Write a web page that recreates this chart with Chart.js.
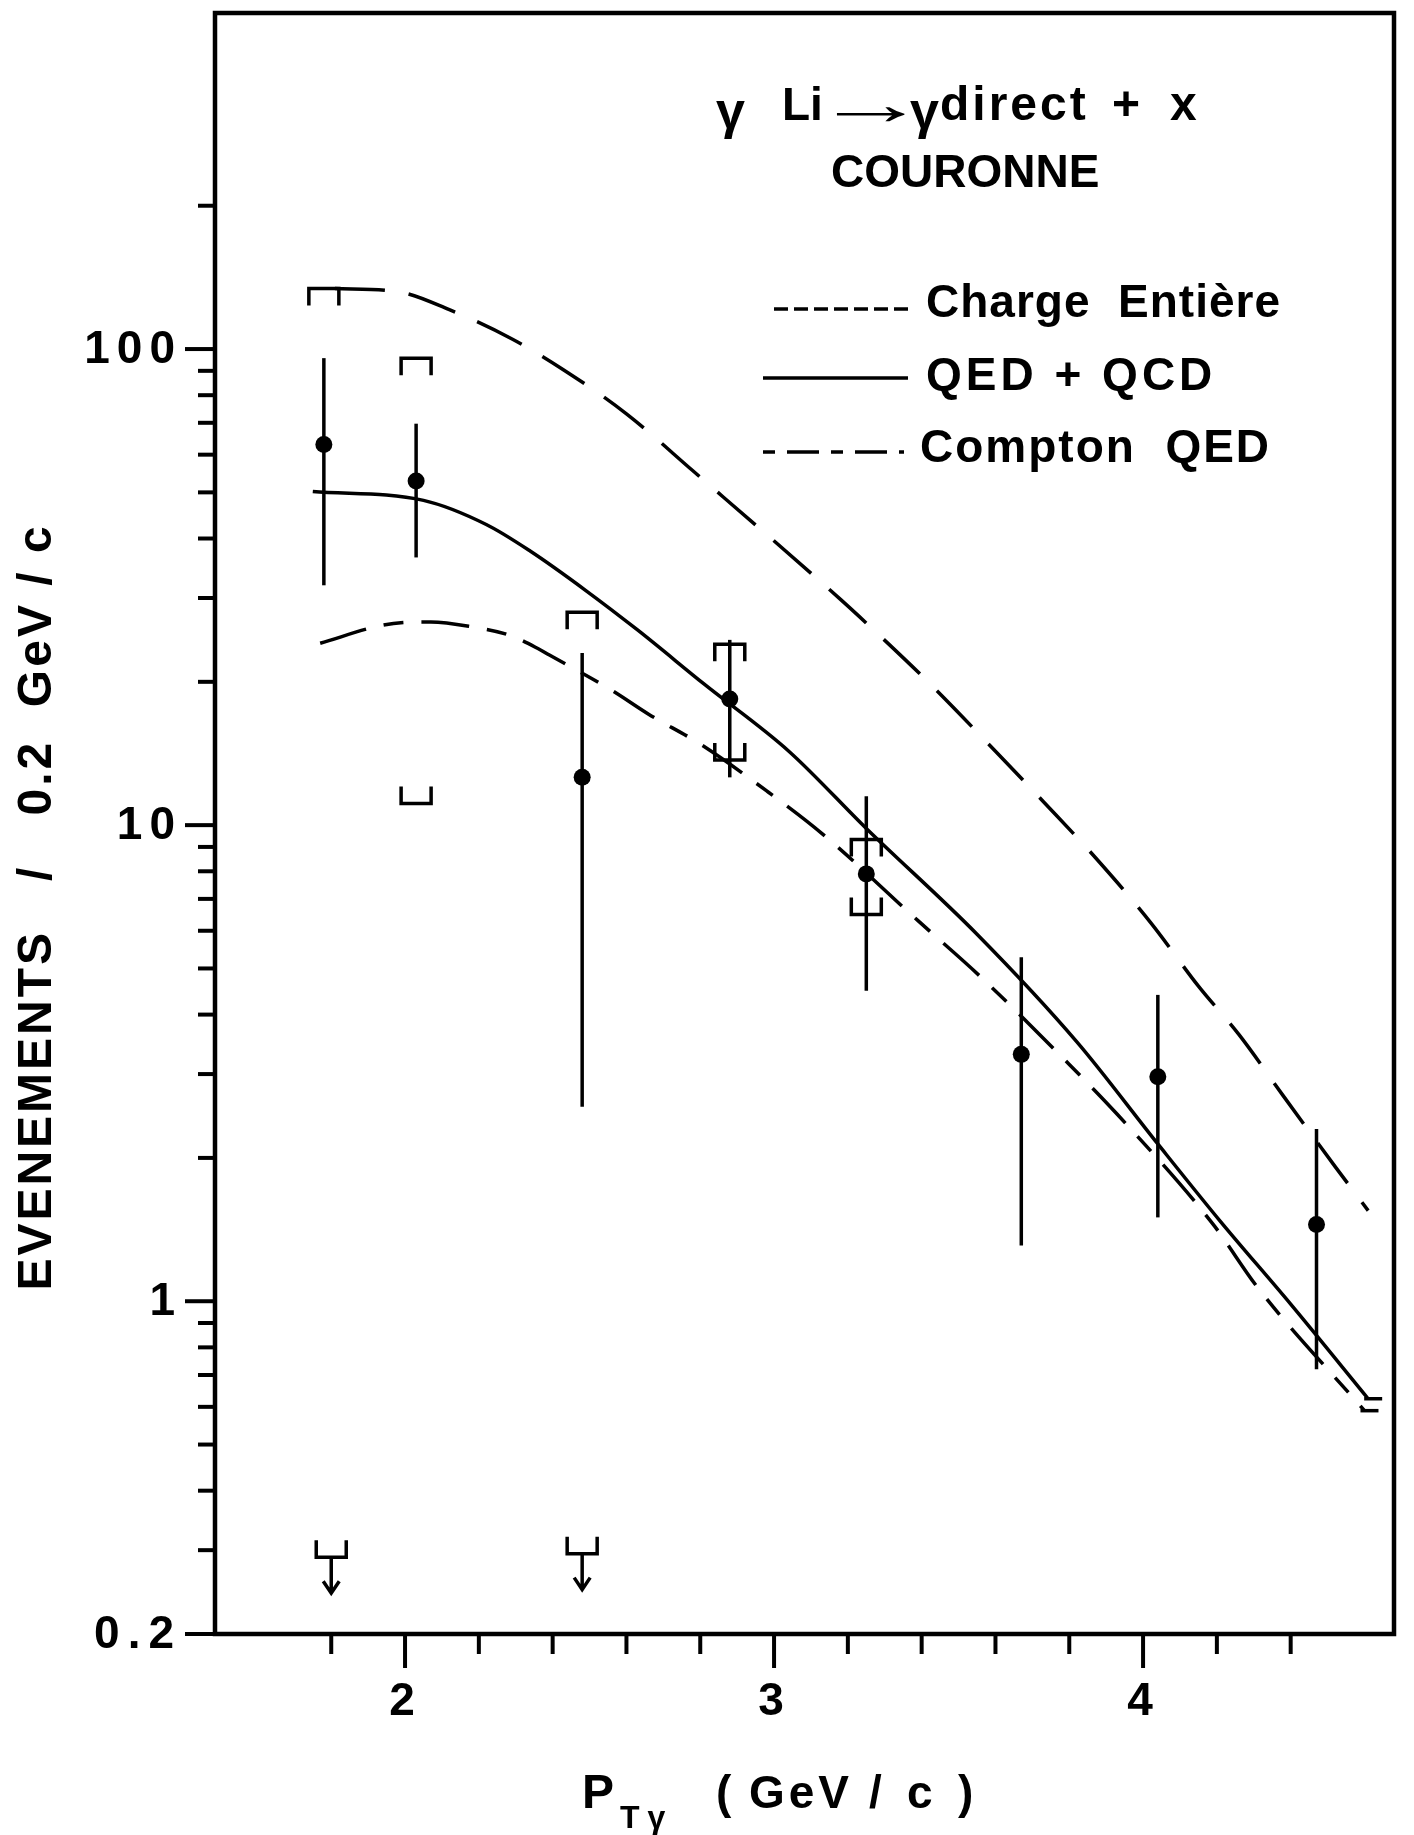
<!DOCTYPE html>
<html lang="fr">

<head>
  <meta charset="UTF-8">
  <title>γ Li → γ direct + x | Couronne</title>
  <script src="https://cdn.jsdelivr.net/npm/chart.js"></script>
  <style>
    body {
      margin: 0;
      background: #ffffff;
    }

    .sheet {
      width: 1414px;
      height: 1835px;
    }
  </style>
</head>

<body>

  <div class="sheet">
    <canvas id="ptChart" width="1414" height="1835"></canvas>
  </div>

  <script>
    // measured points: pT bin centre, events / 0.2 GeV/c, statistical error limits
    const ptBins = [1.78, 2.03, 2.48, 2.88, 3.25, 3.67, 4.04, 4.47];
    const events = [63, 52.8, 12.6, 18.4, 7.9, 3.3, 2.96, 1.45];
    const statHigh = [95.7, 69.7, 23.0, 24.5, 11.5, 5.28, 4.4, 2.3];
    const statLow = [31.9, 36.5, 2.56, 12.6, 4.49, 1.31, 1.5, 0.72];

    // systematic limits (open brackets)
    const sysUpperX = [1.78, 2.03, 2.48, 2.88, 3.25];
    const sysUpperY = [134, 95.6, 28.0, 24.0, 9.33];
    const sysLowerX = [2.03, 2.88, 3.25];
    const sysLowerY = [11.1, 13.7, 6.49];

    // upper limits near the bottom
    const limitX = [1.80, 2.48];
    const limitY = [0.29, 0.295];

    // theory curves
    const chargeX = [1.81, 1.98, 2.12, 2.29, 2.43, 2.60, 2.78, 3.18, 3.27, 3.42, 3.60, 3.73, 3.87, 4.02, 4.15, 4.26, 4.38, 4.52, 4.61];
    const chargeY = [134, 132, 121, 105, 90.4, 73.1, 55.5, 29.8, 25.7, 19.9, 14.3, 11.2, 8.56, 6.25, 4.59, 3.63, 2.70, 1.92, 1.55];

    const qcdX = [1.75, 2.05, 2.22, 2.34, 2.49, 2.63, 2.81, 3.04, 3.25, 3.55, 3.82, 4.04, 4.21, 4.40, 4.61];
    const qcdY = [50.2, 48.1, 42.8, 37.6, 31.1, 25.7, 19.8, 14.3, 9.84, 5.9, 3.51, 2.14, 1.47, 0.986, 0.624];

    const comptonX = [1.77, 1.94, 2.03, 2.07, 2.18, 2.28, 2.36, 2.39, 2.56, 2.66, 2.80, 2.98, 3.13, 3.39, 3.56, 3.79, 3.93, 4.19, 4.31, 4.60];
    const comptonY = [24.1, 26.3, 26.7, 26.7, 26.1, 25.1, 23.5, 22.8, 19.2, 17.1, 14.8, 11.8, 9.6, 6.3, 4.8, 3.2, 2.47, 1.45, 1.07, 0.589];

    // axes
    const xTicks = [1.8, 2, 2.2, 2.4, 2.6, 2.8, 3, 3.2, 3.4, 3.6, 3.8, 4, 4.2, 4.4];
    const xTickLabels = [2, 3, 4];
    const yTicks = [0.2, 0.3, 0.4, 0.5, 0.6, 0.7, 0.8, 0.9, 1, 2, 3, 4, 5, 6, 7, 8, 9,
      10, 20, 30, 40, 50, 60, 70, 80, 90, 100, 200];
    const yTickLabels = [0.2, 1, 10, 100];

    const ink = '#000000';
    const family = "'Liberation Sans', Arial, sans-serif";
    const pairs = (xs, ys) => xs.map((v, i) => ({ x: v, y: ys[i] }));

    function font(size, weight) {
      return (weight || 'bold') + ' ' + size + 'px ' + family;
    }

    function spaced(ctx, px) {
      if ('letterSpacing' in ctx) ctx.letterSpacing = px + 'px';
    }

    // error bars, brackets, frame, ticks and lettering
    const decorations = {
      id: 'decorations',
      afterDatasetsDraw(chart) {
        const { ctx, scales: { x, y } } = chart;
        ctx.save();
        ctx.strokeStyle = ink;
        ctx.fillStyle = ink;
        ctx.lineWidth = 3.5;

        ptBins.forEach((v, i) => {
          const px = x.getPixelForValue(v);
          ctx.beginPath();
          ctx.moveTo(px, y.getPixelForValue(statHigh[i]));
          ctx.lineTo(px, y.getPixelForValue(statLow[i]));
          ctx.stroke();
        });

        const bracket = (xv, yv, dir) => {
          const px = x.getPixelForValue(xv);
          const py = y.getPixelForValue(yv);
          ctx.beginPath();
          ctx.moveTo(px - 15, py + dir * 17);
          ctx.lineTo(px - 15, py);
          ctx.lineTo(px + 15, py);
          ctx.lineTo(px + 15, py + dir * 17);
          ctx.stroke();
          return [px, py];
        };

        sysUpperX.forEach((v, i) => bracket(v, sysUpperY[i], 1));
        sysLowerX.forEach((v, i) => bracket(v, sysLowerY[i], -1));

        limitX.forEach((v, i) => {
          const [px, py] = bracket(v, limitY[i], -1);
          ctx.beginPath();
          ctx.moveTo(px, py);
          ctx.lineTo(px, py + 36);
          ctx.moveTo(px - 8, py + 24);
          ctx.lineTo(px, py + 36);
          ctx.lineTo(px + 8, py + 24);
          ctx.stroke();
        });

        // small end bars on the two lower curves
        [[qcdX, qcdY], [comptonX, comptonY]].forEach(([xs, ys]) => {
          const n = xs.length - 1;
          const px = x.getPixelForValue(xs[n]);
          const py = y.getPixelForValue(ys[n]);
          ctx.beginPath();
          ctx.moveTo(px - 4, py);
          ctx.lineTo(px + 14, py);
          ctx.stroke();
        });
        ctx.restore();
      },

      afterDraw(chart) {
        const { ctx, chartArea: a, scales: { x, y } } = chart;
        ctx.save();
        ctx.strokeStyle = ink;
        ctx.fillStyle = ink;

        // frame
        ctx.lineWidth = 4.5;
        ctx.strokeRect(a.left, a.top, a.right - a.left, a.bottom - a.top);

        // outward ticks, longer on labelled values
        ctx.lineWidth = 4;
        yTicks.forEach(v => {
          const py = y.getPixelForValue(v);
          const len = yTickLabels.includes(v) ? 30 : 17;
          ctx.beginPath();
          ctx.moveTo(a.left, py);
          ctx.lineTo(a.left - len, py);
          ctx.stroke();
        });
        xTicks.forEach(v => {
          const px = x.getPixelForValue(v);
          const len = xTickLabels.includes(v) ? 34 : 20;
          ctx.beginPath();
          ctx.moveTo(px, a.bottom);
          ctx.lineTo(px, a.bottom + len);
          ctx.stroke();
        });

        // tick labels
        ctx.font = font(46);
        ctx.textBaseline = 'middle';
        ctx.textAlign = 'right';
        yTickLabels.forEach(v => {
          spaced(ctx, v < 1 ? 8 : 7);
          ctx.fillText(String(v), a.left - 33, y.getPixelForValue(v) + 1);
        });
        ctx.textAlign = 'center';
        spaced(ctx, 0);
        ctx.font = font(46);
        xTickLabels.forEach(v => {
          ctx.fillText(String(v), x.getPixelForValue(v) - 3, a.bottom + 68);
        });

        // y axis title
        ctx.save();
        ctx.translate(38, 907);
        ctx.rotate(-Math.PI / 2);
        ctx.font = font(48);
        ctx.textAlign = 'center';
        ctx.textBaseline = 'middle';
        spaced(ctx, 3);
        ctx.fillText('EVENEMENTS   /   0.2  GeV / c', 0, 0);
        ctx.restore();

        // x axis title
        ctx.textAlign = 'left';
        ctx.textBaseline = 'alphabetic';
        spaced(ctx, 0);
        ctx.font = font(48);
        ctx.fillText('P', 582, 1808);
        ctx.font = font(32);
        spaced(ctx, 8);
        ctx.fillText('Tγ', 620, 1828);
        ctx.font = font(46);
        spaced(ctx, 0);
        ctx.fillText('(', 716, 1808);
        spaced(ctx, 4);
        ctx.fillText('GeV', 749, 1808);
        spaced(ctx, 0);
        ctx.fillText('/', 869, 1808);
        ctx.fillText('c', 907, 1808);
        ctx.fillText(')', 958, 1808);

        // reaction and region
        ctx.font = font(52);
        ctx.fillText('γ', 716, 128);
        ctx.fillText('γ', 910, 128);
        ctx.font = font(46);
        ctx.fillText('Li', 782, 120);
        ctx.save();
        ctx.translate(814, 124);
        ctx.scale(1.9, 1);
        ctx.font = font(60);
        ctx.fillText('→', 0, 0);
        ctx.restore();
        ctx.font = font(48);
        spaced(ctx, 3);
        ctx.fillText('direct', 940, 120);
        ctx.fillText('+', 1112, 120);
        ctx.fillText('x', 1170, 120);
        ctx.font = font(46);
        spaced(ctx, 0);
        ctx.fillText('COURONNE', 831, 187);

        // legend
        const rows = [
          { label: 'Charge  Entière', dash: [14, 6], x0: 774, x1: 908, ly: 309, tx: 926, ty: 317, gap: 1 },
          { label: 'QED + QCD', dash: [], x0: 763, x1: 908, ly: 378, tx: 926, ty: 390, gap: 4 },
          { label: 'Compton  QED', dash: [12, 12, 32, 12], x0: 763, x1: 904, ly: 452, tx: 920, ty: 462, gap: 2 }
        ];
        rows.forEach(r => {
          ctx.lineWidth = 3.5;
          ctx.setLineDash(r.dash);
          ctx.beginPath();
          ctx.moveTo(r.x0, r.ly);
          ctx.lineTo(r.x1, r.ly);
          ctx.stroke();
          ctx.setLineDash([]);
          ctx.font = font(46);
          spaced(ctx, r.gap);
          ctx.fillText(r.label, r.tx, r.ty);
        });
        spaced(ctx, 0);
        ctx.restore();
      }
    };

    new Chart(document.getElementById('ptChart'), {
      type: 'scatter',
      data: {
        datasets: [
          {
            label: 'Charge Entière',
            data: pairs(chargeX, chargeY),
            showLine: true,
            borderColor: ink,
            borderWidth: 3.5,
            borderDash: [50, 24],
            pointRadius: 0,
            cubicInterpolationMode: 'monotone'
          },
          {
            label: 'QED + QCD',
            data: pairs(qcdX, qcdY),
            showLine: true,
            borderColor: ink,
            borderWidth: 3.5,
            pointRadius: 0,
            cubicInterpolationMode: 'monotone'
          },
          {
            label: 'Compton QED',
            data: pairs(comptonX, comptonY),
            showLine: true,
            borderColor: ink,
            borderWidth: 3.5,
            borderDash: [48, 18, 20, 18],
            pointRadius: 0,
            cubicInterpolationMode: 'monotone'
          },
          {
            label: 'Données',
            data: pairs(ptBins, events),
            showLine: false,
            pointRadius: 8.5,
            pointBackgroundColor: ink,
            pointBorderWidth: 0
          }
        ]
      },
      options: {
        responsive: false,
        animation: false,
        layout: {
          padding: { top: 13, right: 20, left: 0, bottom: 0 }
        },
        plugins: {
          legend: { display: false },
          tooltip: { enabled: false }
        },
        scales: {
          x: {
            type: 'linear',
            min: 1.485,
            max: 4.68,
            grid: { display: false },
            border: { display: false },
            afterBuildTicks: scale => {
              scale.ticks = xTicks.map(v => ({ value: v }));
            },
            afterFit: scale => {
              scale.height = 201;
              scale.paddingLeft = 0;
              scale.paddingRight = 0;
            },
            ticks: { display: false }
          },
          y: {
            type: 'logarithmic',
            min: 0.2,
            max: 508,
            grid: { display: false },
            border: { display: false },
            afterBuildTicks: scale => {
              scale.ticks = yTicks.map(v => ({ value: v }));
            },
            afterFit: scale => {
              scale.width = 215;
              scale.paddingTop = 0;
              scale.paddingBottom = 0;
            },
            ticks: { display: false }
          }
        }
      },
      plugins: [decorations]
    });
  </script>

</body>

</html>
